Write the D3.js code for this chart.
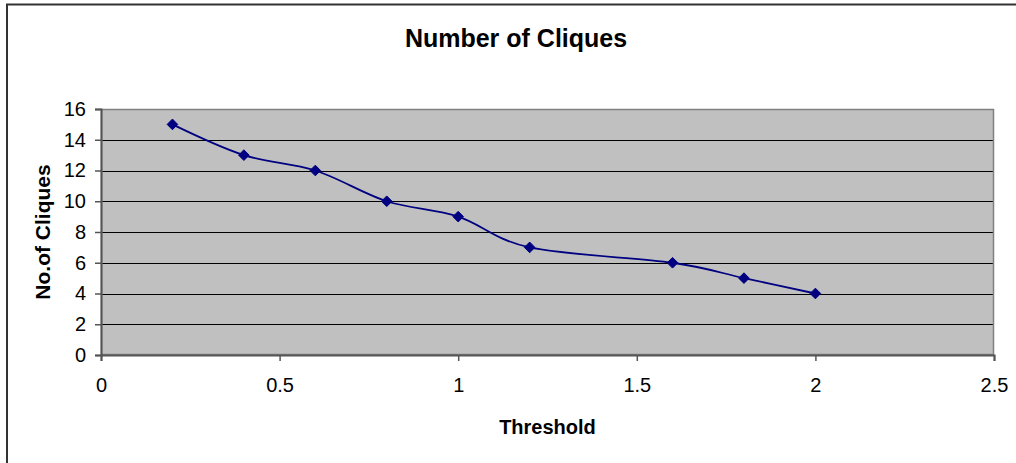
<!DOCTYPE html>
<html><head><meta charset="utf-8">
<script src="https://cdn.jsdelivr.net/npm/d3@7"></script>
<style>body{margin:0;background:#fff}svg{display:block;font-family:Arial,"Liberation Sans",sans-serif}</style>
</head><body><svg id="c" width="1016" height="463"></svg>
<script>
const thresholds = [0.2, 0.4, 0.6, 0.8, 1.0, 1.2, 1.6, 1.8, 2.0];
const cliques = [15, 13, 12, 10, 9, 7, 6, 5, 4];
const xTicks = [0, 0.5, 1, 1.5, 2, 2.5];
const yTicks = [0, 2, 4, 6, 8, 10, 12, 14, 16];
const titleText = "Number of Cliques";
const xTitle = "Threshold";
const yTitle = "No.of Cliques";

const svg = d3.select("#c");
const L = 101, R = 994, T = 109, B = 355;
const x = d3.scaleLinear().domain([0, 2.5]).range([L, R]);
const y = d3.scaleLinear().domain([0, 16]).range([B, T]);

// outer frame (left & top edges visible)
svg.append("path").attr("d", "M7,463 V4.5 H1016").attr("fill", "none").attr("stroke", "#333").attr("stroke-width", 2);

svg.append("rect").attr("x", L).attr("y", T).attr("width", R - L).attr("height", B - T).attr("fill", "#c0c0c0");

// gridlines
svg.append("g").selectAll("line").data(yTicks.filter(d => d > 0 && d < 16)).join("line")
  .attr("x1", L).attr("x2", R).attr("y1", d => Math.round(y(d)) + 0.5).attr("y2", d => Math.round(y(d)) + 0.5)
  .attr("stroke", "#000").attr("stroke-width", 1);

svg.append("rect").attr("x", L + 0.5).attr("y", T + 0.5).attr("width", R - L - 1).attr("height", B - T - 1)
  .attr("fill", "none").attr("stroke", "#808080").attr("stroke-width", 1.5);

// axes
const yAxis = d3.axisLeft(y).tickValues(yTicks).tickSize(6).tickPadding(9).tickFormat(d3.format("d"));
const gy = svg.append("g").attr("transform", `translate(${L},0)`).call(yAxis);
const xAxis = d3.axisBottom(x).tickValues(xTicks).tickSize(6).tickPadding(17).tickFormat(d => String(d));
const gx = svg.append("g").attr("transform", `translate(0,${B})`).call(xAxis);
[gx, gy].forEach(g => {
  g.select(".domain").attr("stroke", "#555").attr("stroke-width", 2);
  g.selectAll(".tick line").attr("stroke", "#555").attr("stroke-width", 1.5);
  g.selectAll(".tick text").attr("fill", "#000").style("font-size", "20px").style("font-family", "Arial, 'Liberation Sans', sans-serif");
});

// line
const pts = thresholds.map((t, i) => [t, cliques[i]]);
svg.append("path").datum(pts)
  .attr("d", d3.line().x(d => x(d[0])).y(d => y(d[1])).curve(d3.curveCardinal.tension(0)))
  .attr("fill", "none").attr("stroke", "#000080").attr("stroke-width", 1.8);

svg.append("g").selectAll("path").data(pts).join("path")
  .attr("d", d3.symbol().type(d3.symbolDiamond2).size(72))
  .attr("transform", d => `translate(${x(d[0])},${y(d[1])})`)
  .attr("fill", "#000080").attr("stroke", "#000080").attr("stroke-width", 1);

// titles
svg.append("text").attr("x", 516).attr("y", 47).attr("text-anchor", "middle")
  .style("font-size", "25px").style("font-weight", "bold").text(titleText);
svg.append("text").attr("x", (L + R) / 2).attr("y", 434).attr("text-anchor", "middle")
  .style("font-size", "20px").style("font-weight", "bold").text(xTitle);
svg.append("text").attr("transform", `translate(50,${(T + B) / 2}) rotate(-90)`).attr("text-anchor", "middle")
  .style("font-size", "21px").style("font-weight", "bold").text(yTitle);
</script></body></html>
